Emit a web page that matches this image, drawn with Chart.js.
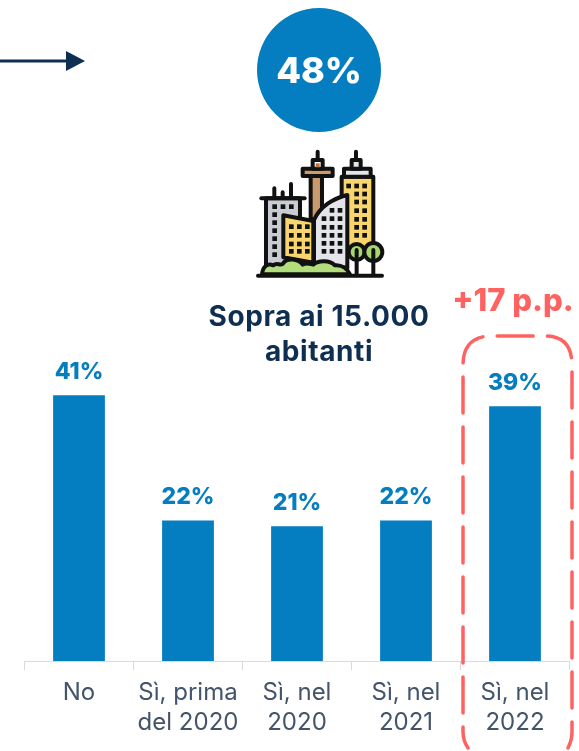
<!DOCTYPE html>
<html lang="it"><head><meta charset="utf-8">
<style>
html,body{margin:0;padding:0;background:#fff;width:579px;height:751px;overflow:hidden}
#wrap{position:relative;width:579px;height:751px}
canvas{position:absolute;left:0;top:0}
svg{position:absolute;left:0;top:0;pointer-events:none}
text{font-family:Inter,"Open Sans",sans-serif;font-weight:700}
</style>
<script src="https://cdn.jsdelivr.net/npm/chart.js@4"></script>
</head><body><div id="wrap">
<canvas id="c" width="579" height="751"></canvas>
<svg width="579" height="751" viewBox="0 0 579 751">
  <line x1="0" y1="61" x2="70" y2="61" stroke="#0d2f52" stroke-width="3"/>
  <path d="M66 51 L85 61 L66 71 Z" fill="#0d2f52"/>
  <circle cx="319" cy="70" r="62" fill="#057dc1"/>
  <text x="319" y="83" text-anchor="middle" fill="#fff" font-size="36" style="font-weight:800">48%</text>
  <g transform="translate(230,140) scale(0.3333)" stroke="#111" stroke-width="12" stroke-linejoin="round" stroke-linecap="round">
    <path d="M133 145V175M158 157V175M183 132V175M263 35V60M378 35V60" fill="none"/>
    <rect x="108" y="175" width="102" height="200" fill="#c9ccd3"/>
    <line x1="94" y1="175" x2="224" y2="175"/>
    <rect x="242" y="108" width="34" height="130" fill="#c99a6b"/>
    <rect x="218" y="86" width="90" height="22" fill="#c99a6b"/>
    <rect x="248" y="60" width="30" height="26" fill="#fff"/>
    <rect x="257" y="70" width="12" height="12" fill="#c0763a" stroke="none"/>
    <rect x="335" y="110" width="95" height="230" fill="#f8d66d"/>
    <rect x="342" y="86" width="80" height="24" fill="#e3e5ea"/>
    <rect x="365" y="60" width="27" height="26" fill="#e3e5ea"/>
    <path d="M160 226 L250 243 V368 L160 352 Z" fill="#f8d66d"/>
    <path d="M252 240 C270 200 310 175 352 165 V385 L252 365 Z" fill="#e3e5ea"/>
    <circle cx="380" cy="336" r="24" fill="#a8d76f"/>
    <circle cx="430" cy="336" r="27" fill="#a8d76f"/>
    <path d="M380 330V405M430 330V405" fill="none"/>
    <path d="M96 403 C98 380 112 368 130 376 C140 366 150 378 158 372 C170 352 205 356 218 374 C230 366 240 372 250 374 C265 360 300 360 315 376 C335 374 352 386 360 403 Z" fill="#b2dd7c"/>
    <line x1="84" y1="407" x2="456" y2="407"/>
    <g fill="#111" stroke="none">
      <rect x="127" y="193" width="14" height="14"/><rect x="152" y="193" width="14" height="14"/><rect x="177" y="193" width="14" height="14"/>
      <rect x="127" y="217" width="14" height="14"/><rect x="127" y="241" width="14" height="14"/><rect x="127" y="265" width="14" height="14"/><rect x="127" y="289" width="14" height="14"/><rect x="127" y="313" width="14" height="14"/><rect x="127" y="337" width="14" height="14"/>
      <rect x="177" y="253" width="14" height="14"/><rect x="201" y="253" width="14" height="14"/><rect x="225" y="253" width="14" height="14"/>
      <rect x="177" y="279" width="14" height="14"/><rect x="201" y="279" width="14" height="14"/><rect x="225" y="279" width="14" height="14"/>
      <rect x="177" y="305" width="14" height="14"/><rect x="201" y="305" width="14" height="14"/><rect x="225" y="305" width="14" height="14"/>
      <rect x="177" y="327" width="14" height="14"/><rect x="201" y="327" width="14" height="14"/><rect x="225" y="327" width="14" height="14"/>
      <rect x="275" y="229" width="14" height="14"/><rect x="299" y="229" width="14" height="14"/><rect x="323" y="229" width="14" height="14"/>
      <rect x="299" y="204" width="14" height="14"/><rect x="323" y="204" width="14" height="14"/>
      <rect x="275" y="255" width="14" height="14"/><rect x="299" y="255" width="14" height="14"/><rect x="323" y="255" width="14" height="14"/>
      <rect x="275" y="279" width="14" height="14"/><rect x="299" y="279" width="14" height="14"/><rect x="323" y="279" width="14" height="14"/>
      <rect x="275" y="303" width="14" height="14"/><rect x="299" y="303" width="14" height="14"/><rect x="323" y="303" width="14" height="14"/>
      <rect x="275" y="327" width="14" height="14"/><rect x="299" y="327" width="14" height="14"/><rect x="323" y="327" width="14" height="14"/>
      <rect x="349" y="131" width="14" height="14"/><rect x="373" y="131" width="14" height="14"/><rect x="397" y="131" width="14" height="14"/>
      <rect x="373" y="155" width="14" height="14"/><rect x="397" y="155" width="14" height="14"/>
      <rect x="373" y="179" width="14" height="14"/><rect x="397" y="179" width="14" height="14"/>
      <rect x="373" y="205" width="14" height="14"/><rect x="397" y="205" width="14" height="14"/>
      <rect x="373" y="231" width="14" height="14"/><rect x="397" y="231" width="14" height="14"/>
      <rect x="373" y="255" width="14" height="14"/><rect x="397" y="255" width="14" height="14"/>
      <rect x="373" y="279" width="14" height="14"/><rect x="397" y="279" width="14" height="14"/>
    </g>
  </g>
  <text x="319" y="326" text-anchor="middle" fill="#0f2f50" font-size="28" letter-spacing="0.6">Sopra ai 15.000</text>
  <text x="319" y="361" text-anchor="middle" fill="#0f2f50" font-size="28" letter-spacing="0.6">abitanti</text>
  <text x="513" y="311" text-anchor="middle" fill="#ff6361" font-size="31" style="font-weight:800">+17 p.p.</text>
  <path d="M468 748 C464 742 463 738 463 732 V365 Q463 336 492 336 H545 Q572 336 572 365 V732 C572 738 571 742 568 748" fill="none" stroke="#ff6361" stroke-width="3.5" stroke-linecap="round" stroke-dasharray="36 14" stroke-dashoffset="14"/>
</svg>
</div>
<script>
const categories = [["No"], ["Sì, prima", "del 2020"], ["Sì, nel", "2020"], ["Sì, nel", "2021"], ["Sì, nel", "2022"]];
const shares = [41, 21.7, 20.8, 21.7, 39.3];
const shareLabels = ["41%", "22%", "21%", "22%", "39%"];
const barColor = "#057dc1";

const valueLabels = {
  id: "valueLabels",
  afterDatasetsDraw(chart) {
    const ctx = chart.ctx, meta = chart.getDatasetMeta(0);
    ctx.save();
    ctx.font = "800 23px Inter, 'Open Sans', sans-serif";
    ctx.fillStyle = barColor;
    ctx.textAlign = "center";
    ctx.textBaseline = "alphabetic";
    meta.data.forEach((bar, i) => ctx.fillText(shareLabels[i], bar.x, bar.y - 16));
    ctx.restore();
  }
};

new Chart(document.getElementById("c"), {
  type: "bar",
  data: { labels: categories, datasets: [{ data: shares, backgroundColor: barColor, borderWidth: 0, categoryPercentage: 1, barPercentage: 0.475 }] },
  options: {
    responsive: false, animation: false,
    layout: { padding: { left: 24.5, right: 9.5, top: 337, bottom: 0 } },
    plugins: { legend: { display: false }, tooltip: { enabled: false } },
    scales: {
      y: { display: false, min: 0, max: 50 },
      x: {
        afterFit(s) { s.height = 90; },
        border: { color: "#d9d9d9", width: 1 },
        grid: { drawOnChartArea: false, color: "#d9d9d9", tickLength: 9, offset: true },
        ticks: { color: "#44546a", padding: 8, maxRotation: 0, autoSkip: false, font: { family: "Inter, 'Open Sans', sans-serif", size: 24, lineHeight: 1.25 } }
      }
    }
  },
  plugins: [valueLabels]
});
</script>
</body></html>
